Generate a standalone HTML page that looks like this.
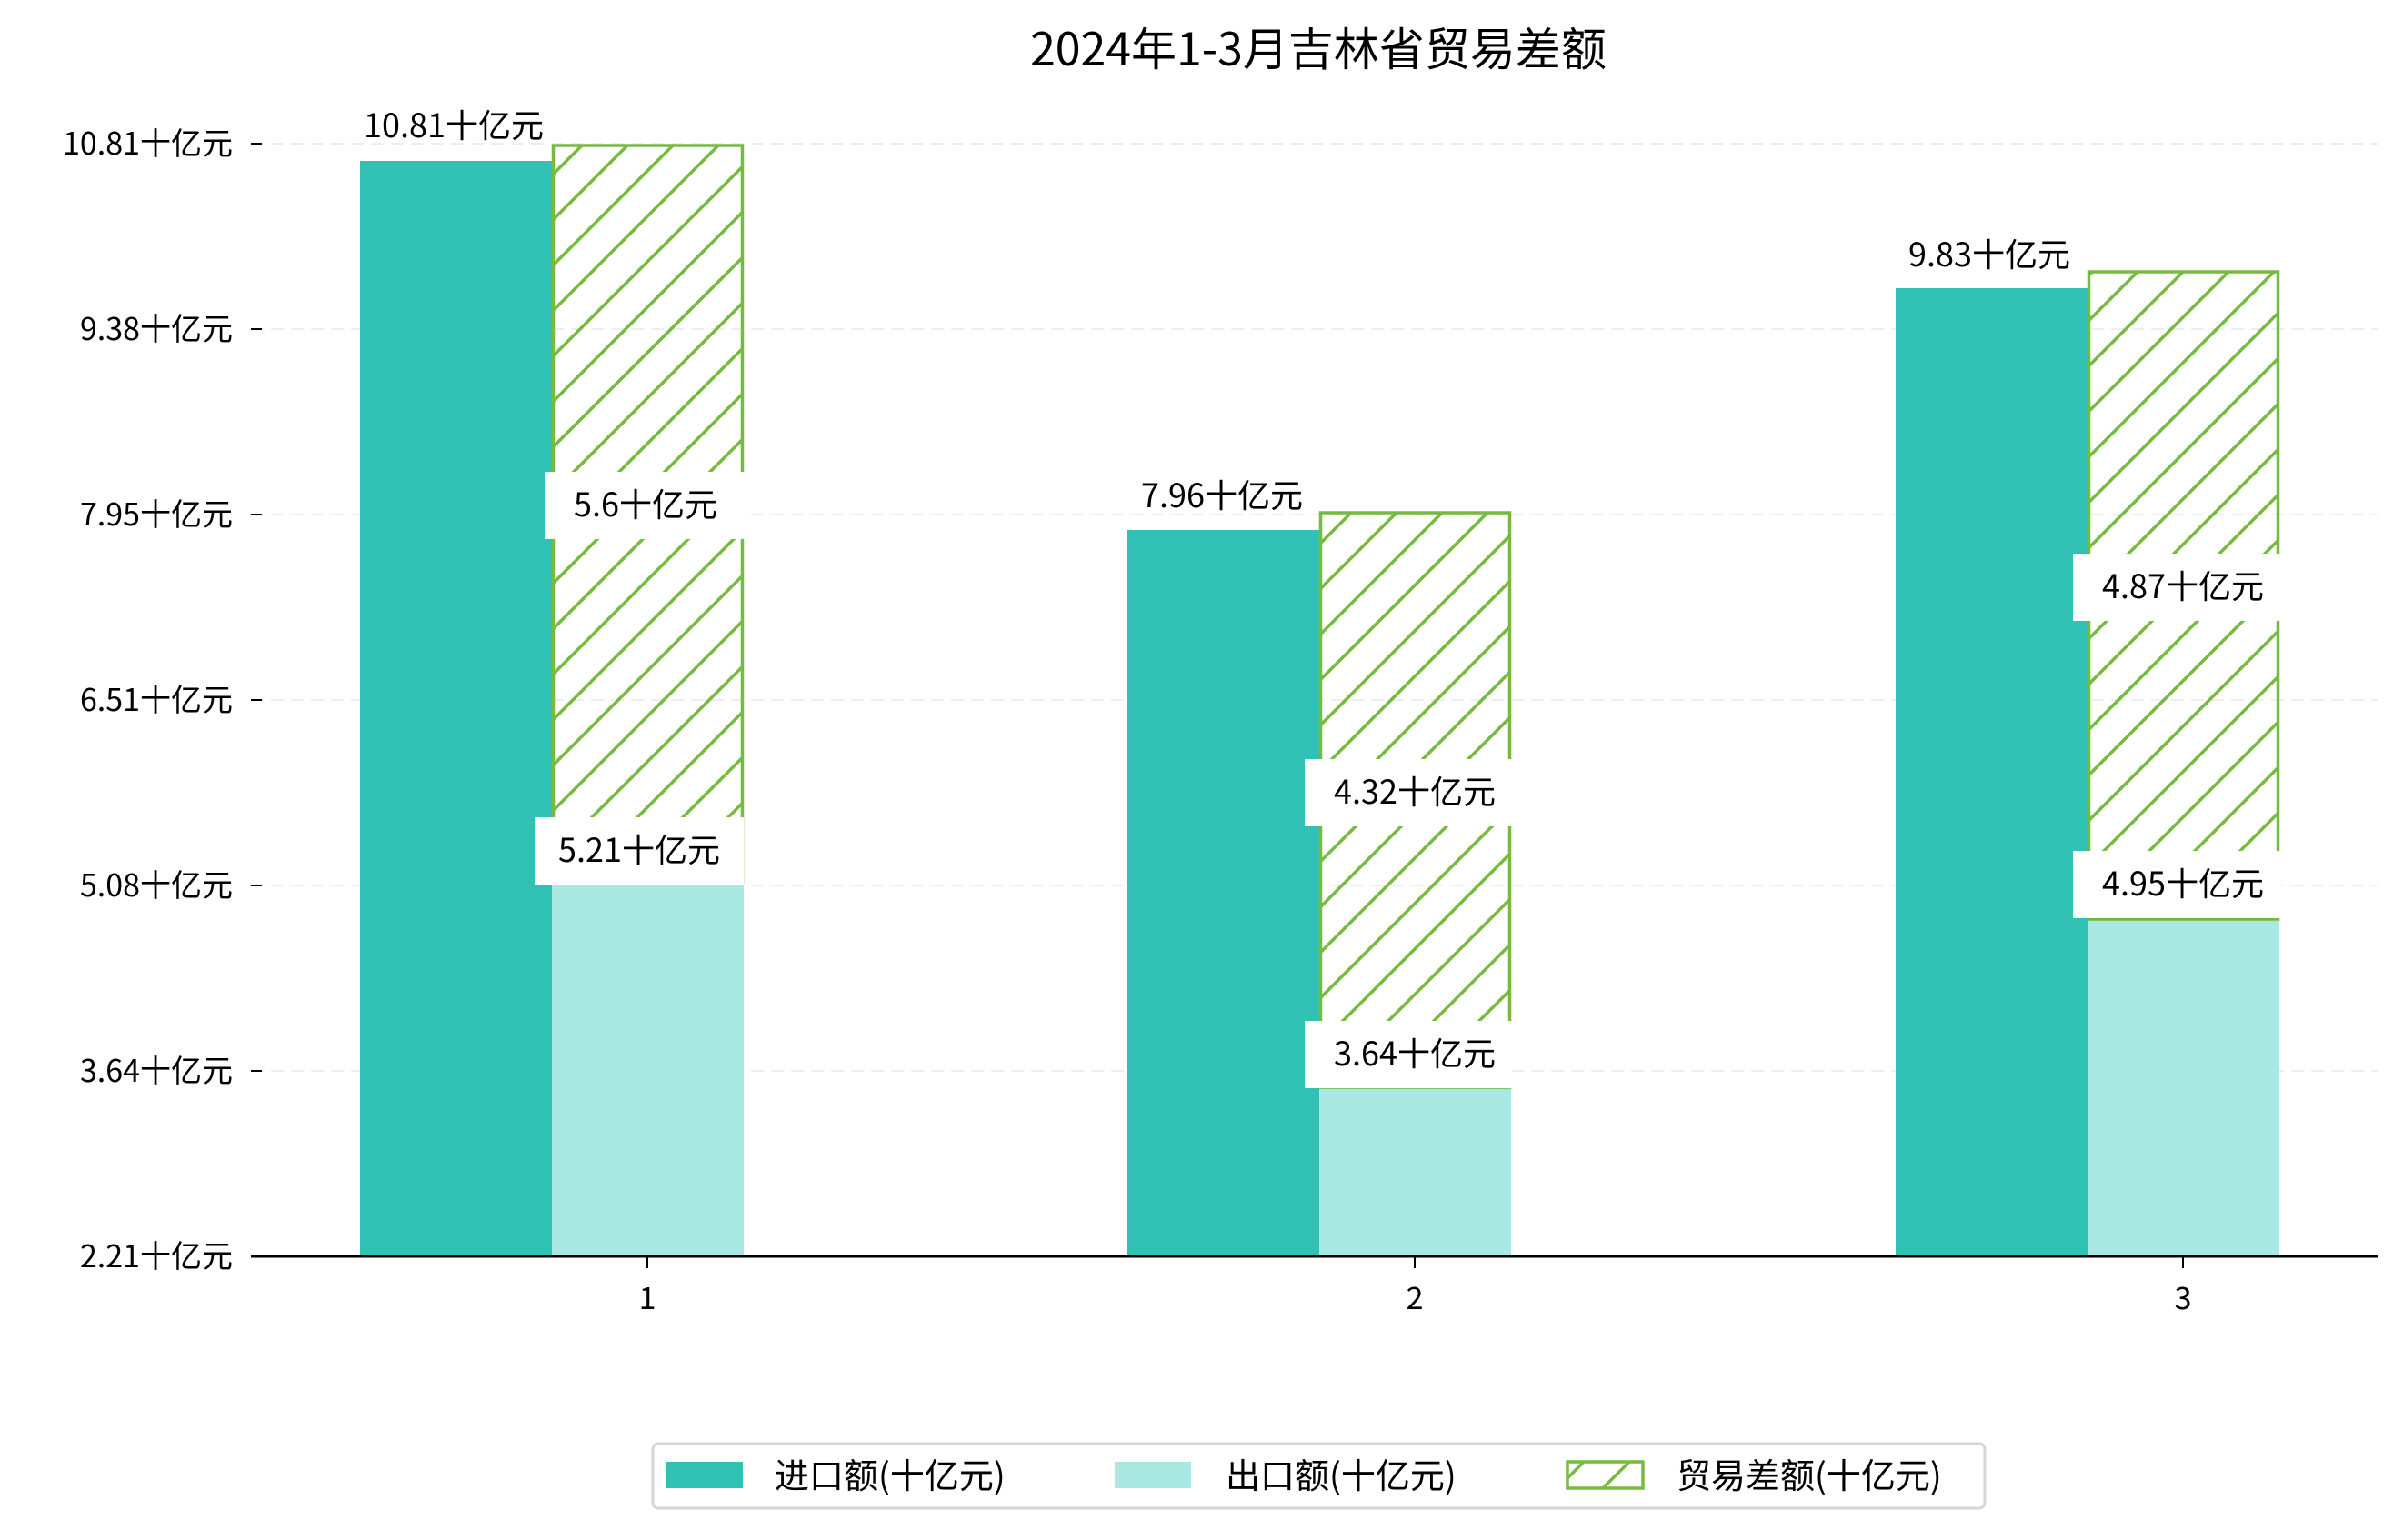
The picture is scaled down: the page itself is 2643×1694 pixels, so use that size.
<!DOCTYPE html>
<html><head><meta charset="utf-8"><style>
body{margin:0;background:#fff}
svg text{font-family:"WenQuanYi Zen Hei","Noto Sans CJK SC","Liberation Sans",sans-serif;fill:#000}
</style></head><body>
<svg width="2643" height="1689" viewBox="0 0 2643 1689" xmlns="http://www.w3.org/2000/svg">
<defs>
<pattern id="h" patternUnits="userSpaceOnUse" width="50" height="50">
<line x1="-5" y1="55" x2="55" y2="-5" stroke="#76bb40" stroke-width="3.5"/>
<line x1="-30" y1="30" x2="30" y2="-30" stroke="#76bb40" stroke-width="3.5"/>
<line x1="20" y1="80" x2="80" y2="20" stroke="#76bb40" stroke-width="3.5"/>
</pattern>
</defs>
<text x="1450" y="72" font-size="50" text-anchor="middle">2024年1-3月吉林省贸易差额</text>
<g stroke="#eeeeee" stroke-width="2" stroke-dasharray="14,8">
<line x1="276" y1="158" x2="2615" y2="158"/>
<line x1="276" y1="362" x2="2615" y2="362"/>
<line x1="276" y1="566" x2="2615" y2="566"/>
<line x1="276" y1="770" x2="2615" y2="770"/>
<line x1="276" y1="974" x2="2615" y2="974"/>
<line x1="276" y1="1178" x2="2615" y2="1178"/>
</g>
<g font-size="34" text-anchor="end">
<text x="256" y="170">10.81十亿元</text>
<text x="256" y="374">9.38十亿元</text>
<text x="256" y="578">7.95十亿元</text>
<text x="256" y="782">6.51十亿元</text>
<text x="256" y="986">5.08十亿元</text>
<text x="256" y="1190">3.64十亿元</text>
<text x="256" y="1394">2.21十亿元</text>
</g>
<g stroke="#000" stroke-width="2">
<line x1="276" y1="158" x2="288" y2="158"/><line x1="276" y1="362" x2="288" y2="362"/>
<line x1="276" y1="566" x2="288" y2="566"/><line x1="276" y1="770" x2="288" y2="770"/>
<line x1="276" y1="974" x2="288" y2="974"/><line x1="276" y1="1178" x2="288" y2="1178"/>
</g>
<rect x="396" y="177" width="211" height="1205" fill="#30c0b4"/>
<rect x="607" y="973" width="211" height="409" fill="#aae8e2"/>
<rect x="608.5" y="160" width="208" height="812" fill="url(#h)" stroke="#76bb40" stroke-width="3.5"/>
<rect x="1240" y="583" width="211" height="799" fill="#30c0b4"/>
<rect x="1451" y="1197" width="211" height="185" fill="#aae8e2"/>
<rect x="1452.5" y="564" width="208" height="632" fill="url(#h)" stroke="#76bb40" stroke-width="3.5"/>
<rect x="2085" y="317" width="211" height="1065" fill="#30c0b4"/>
<rect x="2296" y="1012" width="211" height="370" fill="#aae8e2"/>
<rect x="2297.5" y="299" width="208" height="712" fill="url(#h)" stroke="#76bb40" stroke-width="3.5"/>
<g fill="#fff">
<rect x="599" y="519" width="221" height="74"/>
<rect x="588" y="899" width="230" height="74"/>
<rect x="1435" y="835" width="228" height="74"/>
<rect x="1435" y="1123" width="228" height="74"/>
<rect x="2280" y="609" width="229" height="74"/>
<rect x="2280" y="936" width="229" height="74"/>
</g>
<g font-size="36" text-anchor="middle">
<text x="499" y="151">10.81十亿元</text>
<text x="710" y="568">5.6十亿元</text>
<text x="703" y="948">5.21十亿元</text>
<text x="1344" y="558">7.96十亿元</text>
<text x="1556" y="884">4.32十亿元</text>
<text x="1556" y="1172">3.64十亿元</text>
<text x="2188" y="293">9.83十亿元</text>
<text x="2401" y="658">4.87十亿元</text>
<text x="2401" y="985">4.95十亿元</text>
</g>
<line x1="276" y1="1382" x2="2615" y2="1382" stroke="#000" stroke-width="3"/>
<g stroke="#000" stroke-width="2">
<line x1="712" y1="1382" x2="712" y2="1395"/><line x1="1556" y1="1382" x2="1556" y2="1395"/><line x1="2401" y1="1382" x2="2401" y2="1395"/>
</g>
<g font-size="34" text-anchor="middle">
<text x="712" y="1440">1</text><text x="1556" y="1440">2</text><text x="2401" y="1440">3</text>
</g>
<rect x="718" y="1588" width="1465" height="71" rx="6" fill="#fff" stroke="#d6d6d6" stroke-width="3"/>
<rect x="733" y="1608" width="84" height="29" fill="#30c0b4"/>
<rect x="1226" y="1608" width="84" height="29" fill="#aae8e2"/>
<rect x="1724" y="1608" width="83" height="29" fill="url(#h)" stroke="#76bb40" stroke-width="3.5"/>
<g font-size="38">
<text x="852" y="1637">进口额(十亿元)</text>
<text x="1348" y="1637">出口额(十亿元)</text>
<text x="1844" y="1637">贸易差额(十亿元)</text>
</g>
</svg>
</body></html>
